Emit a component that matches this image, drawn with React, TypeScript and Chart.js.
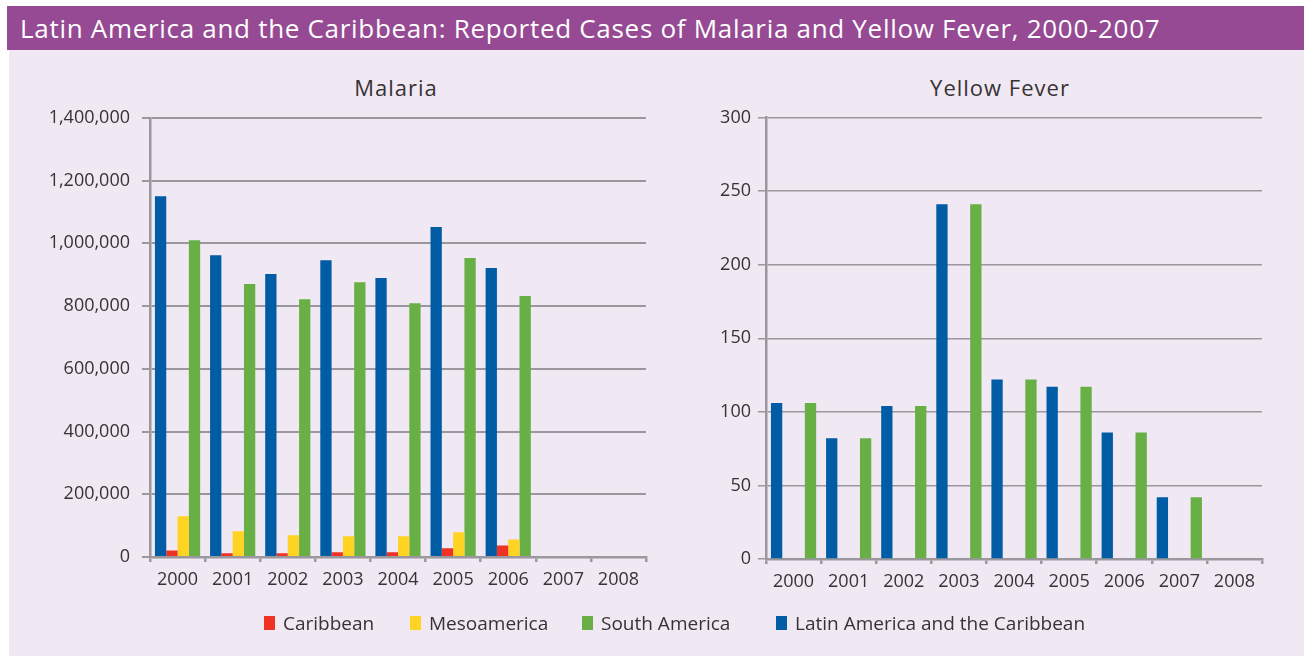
import React, { useEffect, useRef } from "react";
import { Chart, registerables } from "chart.js";

Chart.register(...registerables);

// ---------- Data ----------
const years = ["2000", "2001", "2002", "2003", "2004", "2005", "2006", "2007", "2008"];

const malariaLAC = [1150000, 962000, 902000, 946000, 889000, 1052000, 921000, null, null];
const malariaCaribbean = [21000, 12000, 12000, 15000, 15000, 28000, 37000, null, null];
const malariaMeso = [130000, 82000, 69000, 66000, 66000, 79000, 56000, null, null];
const malariaSouth = [1010000, 870000, 822000, 876000, 809000, 953000, 832000, null, null];

const yellowLAC = [106, 82, 104, 241, 122, 117, 86, 42, null];
const yellowCaribbean = [null, null, null, null, null, null, null, null, null];
const yellowMeso = [null, null, null, null, null, null, null, null, null];
const yellowSouth = [106, 82, 104, 241, 122, 117, 86, 42, null];

const malariaMax = 1400000;
const malariaStep = 200000;
const yellowMax = 300;
const yellowStep = 50;

const seriesNames = ["Caribbean", "Mesoamerica", "South America", "Latin America and the Caribbean"];

// ---------- Styles ----------
const COLORS: Record<string, string> = {
  "Caribbean": "#ee3224",
  "Mesoamerica": "#ffd324",
  "South America": "#68b046",
  "Latin America and the Caribbean": "#005da5",
};
const PURPLE = "#954a93";
const LAVENDER = "#f0e8f3";
const GRID = "#9a989c";
const TEXT = "#373234";
const FONT = "'Open Sans', sans-serif";

type ChartSpec = {
  lac: (number | null)[];
  car: (number | null)[];
  meso: (number | null)[];
  south: (number | null)[];
  max: number;
  step: number;
  yWidth: number;
  xHeight: number;
  padTop: number;
  padRight: number;
  labelPad: number;
  gridWidth: number;
};

function BarChart({ spec, width, height }: { spec: ChartSpec; width: number; height: number }) {
  const ref = useRef<HTMLCanvasElement | null>(null);
  useEffect(() => {
    if (!ref.current) return;
    const chart = new Chart(ref.current, {
      type: "bar",
      data: {
        labels: years,
        datasets: [
          { label: seriesNames[3], data: spec.lac, backgroundColor: COLORS[seriesNames[3]] },
          { label: seriesNames[0], data: spec.car, backgroundColor: COLORS[seriesNames[0]] },
          { label: seriesNames[1], data: spec.meso, backgroundColor: COLORS[seriesNames[1]] },
          { label: seriesNames[2], data: spec.south, backgroundColor: COLORS[seriesNames[2]] },
        ],
      },
      options: {
        responsive: false,
        animation: false,
        devicePixelRatio: 1,
        layout: { padding: { top: spec.padTop, right: spec.padRight, left: 0, bottom: 0 } },
        datasets: { bar: { categoryPercentage: 0.82, barPercentage: 1.0 } },
        plugins: { legend: { display: false }, title: { display: false }, tooltip: { enabled: false } },
        scales: {
          x: {
            type: "category",
            offset: true,
            grid: {
              offset: true,
              drawOnChartArea: false,
              drawTicks: true,
              tickLength: 5,
              color: GRID,
              lineWidth: 2.5,
            },
            border: { display: true, color: GRID, width: 2.5 },
            ticks: { color: TEXT, font: { family: FONT, size: 18 }, padding: 7, maxRotation: 0 },
            afterFit: (s: any) => {
              s.height = spec.xHeight;
            },
          },
          y: {
            min: 0,
            max: spec.max,
            ticks: {
              stepSize: spec.step,
              color: TEXT,
              font: { family: FONT, size: 18 },
              padding: spec.labelPad,
              callback: (v: any) => Number(v).toLocaleString("en-US"),
            },
            grid: { color: GRID, lineWidth: spec.gridWidth, tickLength: 8, drawTicks: true },
            border: { display: true, color: GRID, width: 2.5 },
            afterFit: (s: any) => {
              s.width = spec.yWidth;
            },
          },
        },
      } as any,
    });
    return () => chart.destroy();
  }, []);
  return <canvas ref={ref} width={width} height={height} style={{ width, height, display: "block" }} />;
}

const malariaSpec: ChartSpec = {
  lac: malariaLAC,
  car: malariaCaribbean,
  meso: malariaMeso,
  south: malariaSouth,
  max: malariaMax,
  step: malariaStep,
  yWidth: 150,
  xHeight: 78,
  padTop: 14,
  padRight: 14,
  labelPad: 12,
  gridWidth: 2,
};

const yellowSpec: ChartSpec = {
  lac: yellowLAC,
  car: yellowCaribbean,
  meso: yellowMeso,
  south: yellowSouth,
  max: yellowMax,
  step: yellowStep,
  yWidth: 66,
  xHeight: 79,
  padTop: 19.5,
  padRight: 42,
  labelPad: 7,
  gridWidth: 1.5,
};

const legendLefts = [264, 410, 582, 776];

export default function App() {
  useEffect(() => {
    document.body.style.margin = "0";
  }, []);
  return (
    <div
      style={{
        position: "absolute",
        left: 0,
        top: 0,
        width: 1304,
        height: 656,
        background: "#ffffff",
        overflow: "hidden",
        fontFamily: FONT,
      }}
    >
      <div
        style={{
          position: "absolute",
          left: 7,
          top: 6,
          width: 1297,
          height: 44,
          background: PURPLE,
          color: "#ffffff",
          fontSize: 26,
          letterSpacing: "0.7px",
          lineHeight: "44px",
          paddingLeft: 13,
          boxSizing: "border-box",
          whiteSpace: "nowrap",
        }}
      >
        Latin America and the Caribbean: Reported Cases of Malaria and Yellow Fever, 2000-2007
      </div>
      <div style={{ position: "absolute", left: 9, top: 50, width: 1295, height: 606, background: LAVENDER }} />

      <div style={{ position: "absolute", left: 196, top: 73, width: 400, textAlign: "center", fontSize: 22, letterSpacing: "1px", lineHeight: "28px", color: TEXT }}>
        Malaria
      </div>
      <div style={{ position: "absolute", left: 800, top: 73, width: 400, textAlign: "center", fontSize: 22, letterSpacing: "1px", lineHeight: "28px", color: TEXT }}>
        Yellow Fever
      </div>

      <div style={{ position: "absolute", left: 0, top: 95 }}>
        <BarChart spec={malariaSpec} width={660} height={540} />
      </div>
      <div style={{ position: "absolute", left: 700, top: 98 }}>
        <BarChart spec={yellowSpec} width={604} height={540} />
      </div>

      {seriesNames.map((name, i) => (
        <div key={name} style={{ position: "absolute", left: legendLefts[i], top: 610, height: 26, display: "flex", alignItems: "center", whiteSpace: "nowrap" }}>
          <div style={{ width: 11, height: 14, background: COLORS[name], marginRight: 8 }} />
          <span style={{ fontSize: 19, color: TEXT, lineHeight: "26px" }}>{name}</span>
        </div>
      ))}
    </div>
  );
}
